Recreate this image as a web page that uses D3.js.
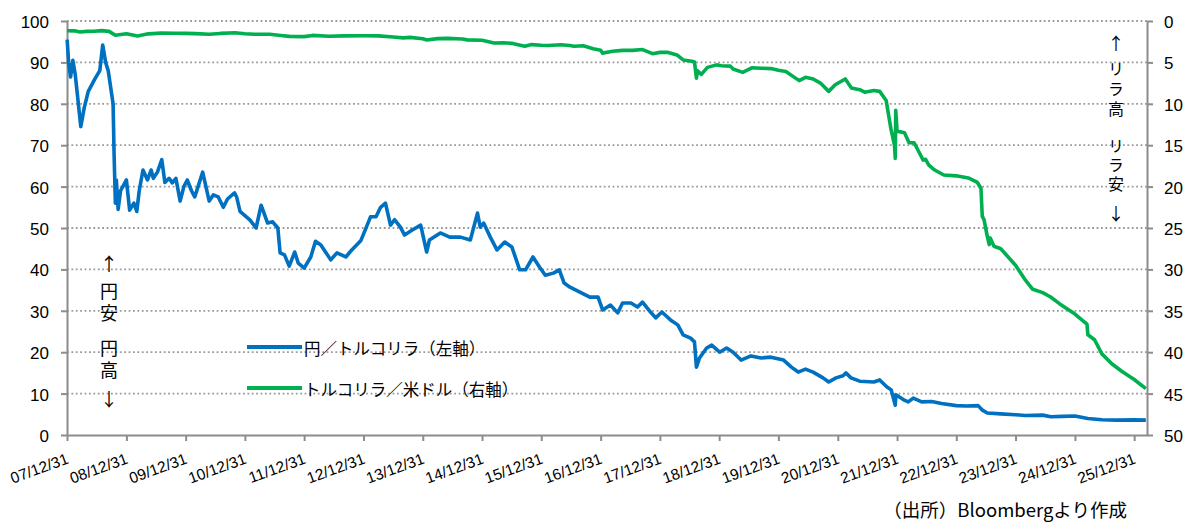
<!DOCTYPE html>
<html>
<head>
<meta charset="utf-8">
<script src="https://d3js.org/d3.v7.min.js"></script>
<style>
  body { margin: 0; background: #fff; }
  svg text { font-family: "Liberation Sans", Arial, sans-serif; fill: #000; }
  .jp { font-family: "Noto Sans CJK JP", "Noto Sans", sans-serif; }
</style>
</head>
<body>
<div id="chart"></div>
<script>
// 円/トルコリラ (left axis)
const jpyDates = ["2008-01-01","2008-01-10","2008-01-22","2008-02-05","2008-02-20","2008-03-10","2008-03-25","2008-04-15","2008-05-10","2008-06-20","2008-07-20","2008-08-07","2008-08-25","2008-09-10","2008-10-10","2008-10-16","2008-10-24","2008-10-30","2008-11-10","2008-11-25","2008-12-31",
  "2009-01-20","2009-02-15","2009-03-05","2009-03-20","2009-04-12","2009-05-10","2009-06-01","2009-06-15","2009-07-10","2009-08-06","2009-08-25","2009-09-20","2009-10-10","2009-11-01","2009-11-27","2009-12-20",
  "2010-01-10","2010-02-05","2010-02-25","2010-04-15","2010-05-25","2010-06-20","2010-07-20","2010-08-20","2010-09-15","2010-10-28","2010-11-10","2010-12-01","2010-12-31",
  "2011-02-01","2011-03-10","2011-04-10","2011-05-20","2011-06-20","2011-07-22","2011-08-05","2011-09-01","2011-09-30","2011-11-03","2011-11-25","2011-12-31",
  "2012-02-10","2012-03-10","2012-04-12","2012-06-12","2012-07-20","2012-09-13","2012-10-15","2012-12-15",
  "2013-01-10","2013-02-12","2013-03-18","2013-04-15","2013-05-15","2013-06-15","2013-07-10","2013-08-15","2013-09-10","2013-10-27","2013-12-18",
  "2014-01-24","2014-02-10","2014-04-18","2014-06-15","2014-08-20","2014-10-20","2014-12-03","2014-12-20",
  "2015-01-10","2015-02-20","2015-04-02","2015-05-20","2015-07-03","2015-08-20","2015-09-25","2015-11-10","2015-12-20",
  "2016-01-25","2016-03-15","2016-04-20","2016-05-20","2016-06-25","2016-08-25","2016-10-25","2016-12-15",
  "2017-01-12","2017-03-01","2017-04-15","2017-05-15","2017-07-05","2017-08-15","2017-09-15","2017-11-03","2017-12-05",
  "2018-01-12","2018-03-06","2018-04-20","2018-05-23","2018-07-08","2018-08-01","2018-08-13","2018-09-01","2018-10-15","2018-11-15",
  "2019-01-03","2019-02-15","2019-03-27","2019-05-15","2019-07-15","2019-09-15","2019-11-15",
  "2020-02-01","2020-03-20","2020-05-01","2020-06-15","2020-08-01","2020-10-01","2020-11-05","2020-12-20",
  "2021-02-01","2021-02-20","2021-03-22","2021-05-15","2021-08-10","2021-09-15","2021-10-30","2021-11-25","2021-12-20","2021-12-24",
  "2022-02-10","2022-03-10","2022-04-10","2022-06-01","2022-08-01","2022-10-01","2022-12-31",
  "2023-03-01","2023-05-15","2023-06-10","2023-07-10","2023-10-01","2023-12-31",
  "2024-03-01","2024-06-15","2024-08-05","2024-10-15","2024-12-31",
  "2025-03-20","2025-06-15","2025-09-15","2025-12-31","2026-03-13"];
const jpyTry = [95.5,90,86.5,90.5,87,80,74.5,79,83,86,88,94.2,90,88,80,68,56,61.6,54.5,59,61.6,
  54.3,56,54,59,64,61.6,64,62,63.5,66.5,61,62,60.9,62,56.5,60,
  61.6,59,57.5,63.5,56.5,58,57.5,55,57,58.5,57.5,54,53,
  51.9,50,55.5,51.2,51.5,50,44,43.5,40.8,44.2,41.5,40.3,
  43,46.8,45.9,42.3,44,43,44.5,47,
  49.5,52.7,52.7,55,56,50.7,52,50.2,48.3,49.5,50.7,
  44.2,47.1,48.8,47.8,47.8,47.1,53.6,50.2,
  51.2,47.8,44.7,46.6,45.4,39.9,39.9,43,40.6,
  38.6,39.1,39.9,36.7,35.7,34.5,33.3,33.3,
  30.2,31.4,29.5,31.9,31.9,30.9,32.1,29.7,28.3,
  29.7,27.8,26.6,24.2,23.4,22.5,16.4,18.6,21,21.7,
  20,21,20,18.1,19.1,18.6,18.8,
  18.1,16.4,15.2,15.9,15.2,13.8,12.8,13.8,
  14.3,15,13.8,13,12.8,13.3,11.6,10.9,7.2,9.7,
  8.5,8,8.9,8,8.1,7.6,7.1,
  7.0,7.1,6.0,5.3,5.1,4.9,
  4.7,4.8,4.4,4.5,4.6,
  4.0,3.7,3.6,3.65,3.6];

// トルコリラ/米ドル (right axis, inverted)
const usdDates = ["2008-01-01","2008-02-15","2008-03-20","2008-05-01","2008-06-15","2008-08-01","2008-09-15","2008-10-24","2008-12-31",
  "2009-03-10","2009-05-15","2009-08-01","2009-11-01","2009-12-31",
  "2010-03-01","2010-05-25","2010-08-01","2010-11-01","2010-12-31",
  "2011-03-01","2011-06-01","2011-08-10","2011-10-01","2011-12-31",
  "2012-02-20","2012-06-01","2012-09-01","2012-12-31",
  "2013-04-01","2013-07-01","2013-09-01","2013-10-15","2013-12-31",
  "2014-01-25","2014-04-01","2014-06-01","2014-09-01","2014-10-01","2014-12-31",
  "2015-03-15","2015-05-15","2015-07-01","2015-09-20","2015-11-01","2015-12-31",
  "2016-02-10","2016-05-01","2016-06-24","2016-07-20","2016-09-15","2016-11-15","2016-12-31",
  "2017-01-11","2017-03-15","2017-05-15","2017-07-15","2017-09-15","2017-11-15","2017-12-31",
  "2018-02-15","2018-04-15","2018-05-23","2018-07-15","2018-08-01","2018-08-13","2018-08-20","2018-09-12","2018-10-20","2018-12-15",
  "2019-01-15","2019-03-10","2019-03-27","2019-05-25","2019-07-20","2019-09-15","2019-11-15","2019-12-31",
  "2020-02-15","2020-05-07","2020-06-15","2020-08-01","2020-09-15","2020-11-05","2020-12-15",
  "2021-02-15","2021-03-25","2021-05-15","2021-06-15","2021-08-10","2021-09-15","2021-10-25","2021-11-23","2021-12-15","2021-12-20","2021-12-23","2021-12-31",
  "2022-02-15","2022-03-15","2022-04-15","2022-05-20","2022-06-10","2022-06-25","2022-07-15","2022-08-20","2022-10-15","2022-12-31",
  "2023-03-15","2023-05-10","2023-06-01","2023-06-09","2023-06-20","2023-07-10","2023-07-22","2023-07-28","2023-08-20","2023-10-01","2023-12-31",
  "2024-03-01","2024-04-15","2024-06-15","2024-08-01","2024-10-01","2024-12-31",
  "2025-03-15","2025-03-21","2025-05-01","2025-06-15","2025-08-15","2025-10-15","2025-12-31","2026-03-13"];
const tryUsd = [1.17,1.19,1.32,1.25,1.23,1.16,1.25,1.72,1.54,
  1.80,1.55,1.47,1.48,1.50,
  1.53,1.60,1.50,1.42,1.54,
  1.60,1.60,1.75,1.86,1.89,
  1.74,1.85,1.80,1.78,
  1.80,1.94,2.04,1.98,2.15,
  2.30,2.13,2.10,2.18,2.28,2.33,
  2.65,2.62,2.70,3.05,2.85,2.92,
  2.95,2.87,2.95,3.05,2.98,3.35,3.52,
  3.88,3.65,3.55,3.55,3.45,3.95,3.79,
  3.78,4.10,4.70,4.85,4.95,6.9,6.0,6.45,5.6,5.3,
  5.4,5.45,5.8,6.2,5.65,5.7,5.75,5.95,
  6.1,7.2,6.8,7.0,7.5,8.5,7.7,
  7.0,8.1,8.3,8.6,8.4,8.5,9.6,13.0,15.0,16.6,10.8,13.3,
  13.5,14.7,14.7,16.0,16.8,16.7,17.4,18.0,18.6,18.7,
  18.95,19.5,20.2,23.6,24.0,26.0,27.0,26.2,27.2,27.5,29.5,
  31.3,32.4,32.8,33.3,34.2,35.4,
  36.6,37.9,38.5,40.2,41.4,42.3,43.3,44.4];

const leftTicks = [0,10,20,30,40,50,60,70,80,90,100];
const rightTicks = [0,5,10,15,20,25,30,35,40,45,50];
const xTickDates = d3.range(2007, 2026).map(y => y + "-12-31");

const parse = d3.timeParse("%Y-%m-%d");
const jpyData = jpyDates.map((d, i) => ({ date: parse(d), value: jpyTry[i] }));
const usdData = usdDates.map((d, i) => ({ date: parse(d), value: tryUsd[i] }));

const W = 1192, H = 523;
const plot = { left: 67, right: 1147, top: 21, bottom: 435 };

const svg = d3.select("#chart").append("svg")
  .attr("width", W).attr("height", H);

const x = d3.scaleTime()
  .domain([parse("2007-12-31"), parse("2026-03-20")])
  .range([plot.left, plot.right]);
const yL = d3.scaleLinear().domain([0, 100]).range([plot.bottom, plot.top]);
const yR = d3.scaleLinear().domain([0, 50]).range([plot.top, plot.bottom]);

// dotted gridlines
svg.append("g")
  .selectAll("line")
  .data(leftTicks.filter(d => d > 0))
  .join("line")
  .attr("x1", plot.left).attr("x2", plot.right)
  .attr("y1", d => yL(d)).attr("y2", d => yL(d))
  .attr("stroke", "#9a9a9a")
  .attr("stroke-width", 1.8)
  .attr("stroke-dasharray", "1.8 2.6");

// axes
const axisColor = "#8c8c8c";
function styleAxis(g) {
  g.select(".domain").attr("stroke", axisColor).attr("stroke-width", 2);
  g.selectAll(".tick line").attr("stroke", axisColor).attr("stroke-width", 2);
}

svg.append("g")
  .attr("transform", `translate(${plot.left},0)`)
  .call(d3.axisLeft(yL).tickValues(leftTicks).tickSize(6).tickSizeOuter(0).tickPadding(12))
  .call(styleAxis)
  .call(g => g.selectAll(".tick text")
    .attr("font-size", 17).attr("dy", "0.38em")
    .style("font-family", "'Liberation Sans', Arial, sans-serif"));

svg.append("g")
  .attr("transform", `translate(${plot.right},0)`)
  .call(d3.axisRight(yR).tickValues(rightTicks).tickSize(6).tickSizeOuter(0).tickPadding(11))
  .call(styleAxis)
  .call(g => g.selectAll(".tick text")
    .attr("font-size", 17).attr("dy", "0.38em")
    .style("font-family", "'Liberation Sans', Arial, sans-serif"));

svg.append("g")
  .attr("transform", `translate(0,${plot.bottom})`)
  .call(d3.axisBottom(x).tickValues(xTickDates.map(parse)).tickSize(6).tickSizeOuter(0)
    .tickFormat(d3.timeFormat("%y/%m/%d")))
  .call(styleAxis)
  .call(g => g.selectAll(".tick text")
    .attr("font-size", 15.5)
    .attr("text-anchor", "end")
    .attr("dy", 0).attr("y", 0)
    .attr("transform", "translate(2,28) rotate(-20)")
    .style("font-family", "'Liberation Sans', Arial, sans-serif"));

// lines
const lineL = d3.line().x(d => x(d.date)).y(d => yL(d.value));
const lineR = d3.line().x(d => x(d.date)).y(d => yR(d.value));

svg.append("path").datum(usdData)
  .attr("fill", "none").attr("stroke", "#00b050")
  .attr("stroke-width", 3.6).attr("stroke-linejoin", "round")
  .attr("d", lineR);

svg.append("path").datum(jpyData)
  .attr("fill", "none").attr("stroke", "#0070c0")
  .attr("stroke-width", 3.6).attr("stroke-linejoin", "round")
  .attr("d", lineL);

// legend
const legend = [
  { label: "円／トルコリラ（左軸）", color: "#0070c0", y: 347 },
  { label: "トルコリラ／米ドル（右軸）", color: "#00b050", y: 388 }
];
const lg = svg.append("g");
lg.selectAll("line").data(legend).join("line")
  .attr("x1", 247).attr("x2", 302)
  .attr("y1", d => d.y).attr("y2", d => d.y)
  .attr("stroke", d => d.color).attr("stroke-width", 4);
lg.selectAll("text").data(legend).join("text")
  .attr("class", "jp")
  .attr("x", 304).attr("y", d => d.y + 8)
  .attr("font-size", 16.5)
  .text(d => d.label);

// vertical annotations: arrows + vertical-writing words
function arrow(ch, cx, cy, size) {
  svg.append("text").attr("class", "jp")
    .attr("x", cx).attr("y", cy)
    .attr("text-anchor", "middle").attr("dominant-baseline", "central")
    .attr("font-size", size).text(ch);
}
function vword(word, cx, cy, size, spacing) {
  svg.append("text").attr("class", "jp")
    .attr("x", cx).attr("y", cy)
    .attr("text-anchor", "middle")
    .style("writing-mode", "vertical-rl")
    .style("letter-spacing", spacing + "px")
    .attr("font-size", size).text(word);
}
arrow("↑", 109, 263, 18);
vword("円安", 109, 304, 18, 4);
vword("円高", 109, 361, 18, 4);
arrow("↓", 109, 398, 18);

arrow("↑", 1116, 42, 17);
vword("リラ高", 1116, 91, 16, 4);
vword("リラ安", 1116, 166, 16, 3);
arrow("↓", 1116, 212, 17);

// source
svg.append("text")
  .attr("class", "jp")
  .attr("x", 1127).attr("y", 517)
  .attr("text-anchor", "end")
  .attr("font-size", 18.5)
  .text("（出所）Bloombergより作成");
</script>
</body>
</html>
